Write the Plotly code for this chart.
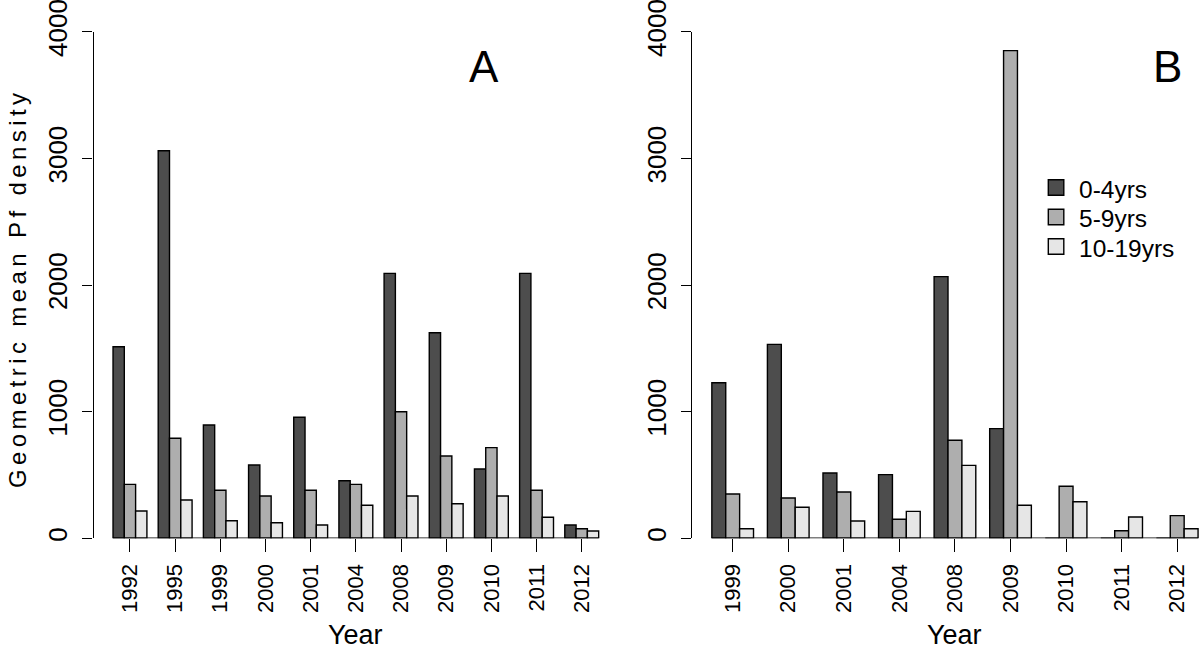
import plotly.graph_objects as go

# ---------------- data ----------------
years_a = ["1992", "1995", "1999", "2000", "2001", "2004", "2008", "2009", "2010", "2011", "2012"]
a_0_4 = [1513, 3061, 895, 579, 956, 455, 2093, 1624, 547, 2093, 105]
a_5_9 = [426, 790, 379, 334, 379, 426, 1000, 650, 716, 379, 76]
a_10_19 = [216, 302, 139, 123, 105, 261, 334, 273, 334, 166, 58]

years_b = ["1999", "2000", "2001", "2004", "2008", "2009", "2010", "2011", "2012"]
b_0_4 = [1229, 1532, 516, 503, 2067, 866, 0, 0, 0]
b_5_9 = [350, 318, 366, 150, 774, 3852, 411, 60, 179]
b_10_19 = [76, 245, 137, 213, 576, 261, 289, 168, 76]

group_names = ["0-4yrs", "5-9yrs", "10-19yrs"]
group_colors = ["#4D4D4D", "#AEAEAE", "#E6E6E6"]
y_ticks = [0, 1000, 2000, 3000, 4000]

FONT = "Liberation Sans, Arial, Helvetica, sans-serif"
LW = 1.4
W, H = 1200, 652

fig = go.Figure()

pos_a = list(range(len(years_a)))
pos_b = list(range(len(years_b)))

for name, col, vals in zip(group_names, group_colors, [a_0_4, a_5_9, a_10_19]):
    fig.add_trace(go.Bar(x=pos_a, y=vals, name=name, marker=dict(color=col, line=dict(color="black", width=LW)),
                         xaxis="x", yaxis="y", showlegend=False))
for name, col, vals in zip(group_names, group_colors, [b_0_4, b_5_9, b_10_19]):
    fig.add_trace(go.Bar(x=pos_b, y=vals, name=name, marker=dict(color=col, line=dict(color="black", width=LW)),
                         xaxis="x2", yaxis="y2", showlegend=False))

ydom = [(H - 538.3) / H, (H - 31.9) / H]

def xax(domain, rng, ticktext, anchor):
    return dict(domain=domain, range=rng, tickmode="array", tickvals=list(range(len(ticktext))),
                ticktext=ticktext, tickangle=-90, ticks="outside", ticklen=13, tickwidth=LW,
                tickcolor="black", showline=False, showgrid=False, zeroline=False,
                ticklabelstandoff=3, automargin=False,
                tickfont=dict(family=FONT, size=22, color="black"), anchor=anchor)

def yax(anchor):
    return dict(domain=ydom, range=[0, 4000], tickmode="array", tickvals=y_ticks,
                ticktext=[str(v) for v in y_ticks], tickangle=-90, ticks="outside", ticklen=10,
                tickwidth=LW, tickcolor="black", showline=True, linewidth=LW, linecolor="black",
                showgrid=False, zeroline=False, ticklabeloverflow="allow", ticklabelstandoff=5,
                automargin=False, tickfont=dict(family=FONT, size=26, color="black"),
                anchor=anchor)

n_a = len(years_a)
n_b = len(years_b)

shapes = [
    dict(type="line", xref="x", yref="y", x0=-0.375, x1=n_a - 1 + 0.375, y0=0, y1=0,
         line=dict(color="black", width=LW)),
    dict(type="line", xref="x2", yref="y2", x0=-0.375, x1=n_b - 1 + 0.375, y0=0, y1=0,
         line=dict(color="black", width=LW)),
]
annotations = [
    dict(text="A", xref="paper", yref="paper", x=484 / W, y=(H - 67) / H,
         xanchor="center", yanchor="middle", showarrow=False, font=dict(family=FONT, size=44, color="black")),
    dict(text="B", xref="paper", yref="paper", x=1167.5 / W, y=(H - 67) / H,
         xanchor="center", yanchor="middle", showarrow=False, font=dict(family=FONT, size=44, color="black")),
    dict(text="Year", xref="x", yref="paper", x=(n_a - 1) / 2, y=0,
         xanchor="center", yanchor="bottom", showarrow=False, font=dict(family=FONT, size=27, color="black")),
    dict(text="Year", xref="x2", yref="paper", x=(n_b - 1) / 2, y=0,
         xanchor="center", yanchor="bottom", showarrow=False, font=dict(family=FONT, size=27, color="black")),
    dict(text="Geometric mean Pf density", xref="paper", yref="paper", x=17.5 / W, y=(H - 288.5) / H,
         xanchor="center", yanchor="middle", textangle=-90, showarrow=False,
         font=dict(family=FONT, size=24, color="black")),
]

# legend (drawn in panel B, R-style)
leg_x0, leg_box, leg_top, leg_step = 1048.3, 15.5, 187.5, 29.5
for i, (name, col) in enumerate(zip(group_names, group_colors)):
    cy = leg_top + i * leg_step
    shapes.append(dict(type="rect", xref="paper", yref="paper",
                       x0=leg_x0 / W, x1=(leg_x0 + leg_box) / W,
                       y0=(H - (cy + leg_box / 2)) / H, y1=(H - (cy - leg_box / 2)) / H,
                       fillcolor=col, line=dict(color="black", width=LW)))
    annotations.append(dict(text=name, xref="paper", yref="paper", x=1077 / W, y=(H - (cy + 2)) / H,
                            xanchor="left", yanchor="middle", showarrow=False,
                            font=dict(family=FONT, size=24.5, color="black")))

fig.update_layout(
    width=W, height=H, autosize=False,
    margin=dict(l=0, r=0, t=0, b=0, pad=0),
    paper_bgcolor="white", plot_bgcolor="white",
    barmode="group", bargap=0.25, bargroupgap=0,
    font=dict(family=FONT, color="black"),
    xaxis=xax([93.6 / W, 618.1 / W], [-0.805, n_a - 1 + 0.805], years_a, "y"),
    yaxis=yax("x"),
    xaxis2=xax([692.4 / W, 1.0], [-0.725, 8.41], years_b, "y2"),
    yaxis2=yax("x2"),
    showlegend=False,
    shapes=shapes,
    annotations=annotations,
)

post = """
document.body.style.margin = '0';
document.body.style.padding = '0';
document.body.style.overflow = 'hidden';
function spaceTitle(){
  document.querySelectorAll('.annotation-text').forEach(function(t){
    if (t.textContent.indexOf('Geometric') === 0) { t.style.letterSpacing = '4.4px'; }
  });
}
spaceTitle();
var gd = document.getElementById('{plot_id}');
if (gd && gd.on) { gd.on('plotly_afterplot', spaceTitle); }
setTimeout(spaceTitle, 50);
"""

fig.write_html("out.html", post_script=post, config={"displayModeBar": False, "responsive": False})
